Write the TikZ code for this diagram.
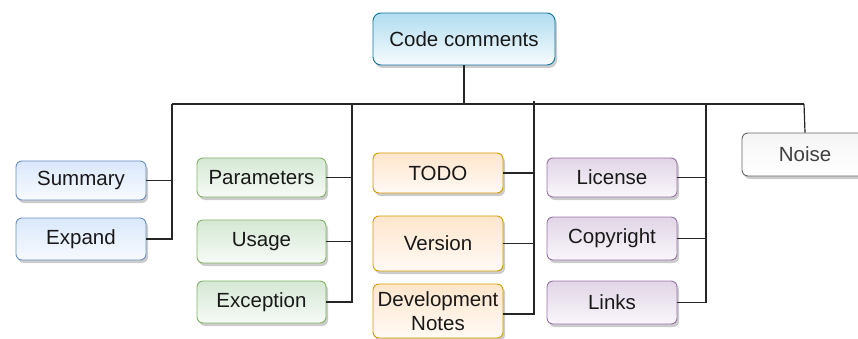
\documentclass[tikz,border=0pt]{standalone}
\usepackage{fontspec}
\setmainfont{Liberation Sans}
\usetikzlibrary{shadows}
\definecolor{rootfill}{HTML}{B1DDF0}
\definecolor{rootline}{HTML}{10739E}
\definecolor{bluefill}{HTML}{DAE8FC}
\definecolor{blueline}{HTML}{6C8EBF}
\definecolor{greenfill}{HTML}{D5E8D4}
\definecolor{greenline}{HTML}{82B366}
\definecolor{orangefill}{HTML}{FFE6CC}
\definecolor{orangeline}{HTML}{D79B00}
\definecolor{purplefill}{HTML}{E1D5E7}
\definecolor{purpleline}{HTML}{9673A6}
\definecolor{greyfill}{HTML}{F5F5F5}
\definecolor{greyline}{HTML}{666666}
\tikzstyle{card} = [rectangle,rounded corners=6pt,line width=0.9pt,
  minimum width=130pt,minimum height=40pt,inner sep=2pt,align=center,
  text=black!90,font=\fontsize{20.5}{24}\selectfont,
  drop shadow={shadow xshift=2pt,shadow yshift=-3pt,opacity=0.2,fill=black}]
\tikzstyle{rootcard} = [card,draw=rootline,top color=rootfill,bottom color=rootfill!10,
  rounded corners=8pt,minimum width=182pt,minimum height=52pt]
\tikzstyle{bluecard} = [card,draw=blueline,top color=bluefill,bottom color=bluefill!20]
\tikzstyle{greencard} = [card,draw=greenline,top color=greenfill,bottom color=greenfill!20]
\tikzstyle{orangecard} = [card,draw=orangeline,top color=orangefill,bottom color=orangefill!20]
\tikzstyle{purplecard} = [card,draw=purpleline,top color=purplefill,bottom color=purplefill!20]
\tikzstyle{greycard} = [card,draw=greyline,top color=greyfill,bottom color=white,text=black!75]
\tikzstyle{wire} = [line width=1.2pt,black!85]

\begin{document}
\begin{tikzpicture}[x=1pt,y=-1pt]
    \useasboundingbox (0,0) rectangle (858,339);
    % root
    \node [rootcard] (code) at (464,39) {Code comments};
    % first group
    \node [bluecard,minimum height=39pt] (summary) at (81,180.5) {Summary};
    \node [bluecard,minimum height=42pt] (expand) at (81,239) {Expand};
    % second group
    \node [greencard,minimum width=129pt,minimum height=39pt] (params) at (261.5,177.5) {Parameters};
    \node [greencard,minimum width=129pt,minimum height=43pt] (usage) at (261.5,241.5) {Usage};
    \node [greencard,minimum width=129pt,minimum height=42pt] (exception) at (261.5,302) {Exception};
    % third group
    \node [orangecard] (todo) at (438,173) {TODO};
    \node [orangecard,minimum height=55pt] (version) at (438,243.5) {Version};
    \node [orangecard,minimum height=54pt] (devnotes) at (438,311) {Development\\Notes};
    % fourth group
    \node [purplecard,minimum height=39pt] (license) at (612,177.5) {License};
    \node [purplecard,minimum height=43pt] (copyright) at (612,238.5) {Copyright};
    \node [purplecard,minimum height=43pt] (links) at (612,302.5) {Links};
    % last one
    \node [greycard,minimum width=126pt,minimum height=43pt] (noise) at (805,154.5) {Noise};

    % bus under the root
    \coordinate (hub) at (464,104);
    \coordinate (c1) at (172,104);
    \coordinate (c2) at (352,104);
    \coordinate (c3) at (534,101);
    \coordinate (c4) at (706,104);
    \coordinate (c5) at (804,104);
    \draw [wire] (code) -- (hub);
    \draw [wire] (c1) -- (c5);
    % columns
    \draw [wire] (c1) |- (expand.east);
    \draw [wire] (summary.east) -- (summary.east -| c1);
    \draw [wire] (c2) |- (exception.east);
    \draw [wire] (params.east) -- (params.east -| c2);
    \draw [wire] (usage.east) -- (usage.east -| c2);
    \draw [wire] (c3) |- ([yshift=-3pt]devnotes.east);
    \draw [wire] (todo.east) -- (todo.east -| c3);
    \draw [wire] (version.east) -- (version.east -| c3);
    \draw [wire] (c4) |- (links.east);
    \draw [wire] (license.east) -- (license.east -| c4);
    \draw [wire] (copyright.east) -- (copyright.east -| c4);
    \draw [wire] (c5) -- (noise.north);
\end{tikzpicture}
\end{document}
